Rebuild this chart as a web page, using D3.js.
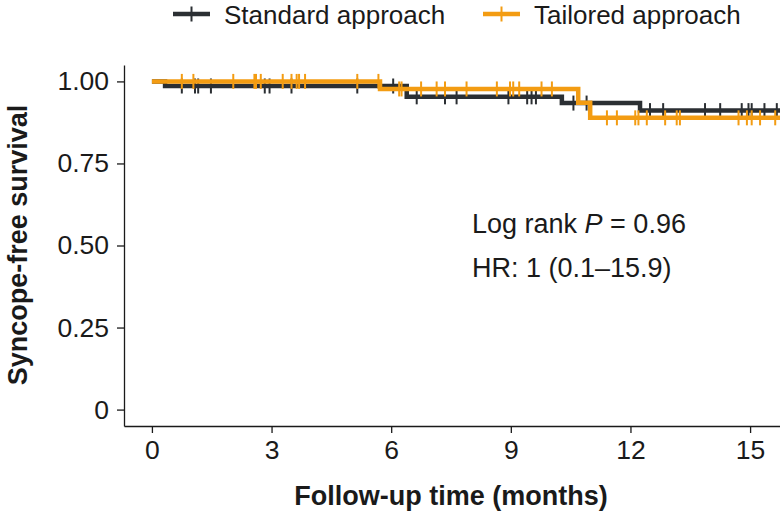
<!doctype html>
<html>
<head>
    <meta charset="utf-8">
    <style>
        body { margin: 0; background: #fff; }
        text { font-family: "Liberation Sans", Arial, sans-serif; fill: #1a1a1a; }
        .axis path, .axis line { stroke: #1a1a1a; stroke-width: 1.3px; }
    </style>
    <script src="https://d3js.org/d3.v7.min.js"></script>
</head>
<body>
<svg width="780" height="511"></svg>
<script>

    // Kaplan-Meier steps (months, survival)
    var standardTimes = [0, 0.33, 6.39, 10.28, 12.24, 15.75];
    var standardSurv  = [1, 0.986, 0.953, 0.934, 0.911, 0.911];
    var tailoredTimes = [0, 5.72, 10.69, 10.99, 15.75];
    var tailoredSurv  = [1, 0.977, 0.935, 0.889, 0.889];

    // censored observations
    var standardCensor = [0.75, 1.08, 1.16, 1.48, 2.83, 2.95, 3.50, 5.15, 6.05, 6.64, 7.35, 7.64,
        8.94, 9.41, 9.52, 9.63, 10.57, 10.90, 12.49, 12.82, 13.87, 14.25, 14.79, 14.96, 15.04,
        15.36, 15.67];
    var tailoredCensor = [0.75, 1.04, 2.04, 2.57, 2.61, 2.73, 3.28, 3.50, 3.63, 3.69, 3.84, 5.15,
        5.68, 6.20, 6.26, 6.75, 7.14, 7.35, 7.89, 8.65, 8.98, 9.06, 9.21, 9.77, 10.03, 11.41,
        11.66, 12.12, 12.20, 12.41, 12.87, 13.16, 13.24, 14.71, 14.92, 15.04, 15.25, 15.63];

    var xTicks = [0, 3, 6, 9, 12, 15];
    var yTicks = [0, 0.25, 0.5, 0.75, 1];
    var seriesNames = ["Standard approach", "Tailored approach"];
    var colors = ["#2b2f33", "#f39c12"];

    var svg = d3.select("svg");

    var x = d3.scaleLinear().domain([-0.7, 15.75]).range([124, 780]);
    var y = d3.scaleLinear().domain([-0.05, 1.05]).range([426, 65]);

    // axes
    svg.append("g")
        .attr("class", "axis")
        .attr("transform", "translate(0,426)")
        .call(d3.axisBottom(x).tickValues(xTicks).tickSize(7).tickSizeOuter(0).tickPadding(7))
        .selectAll("text")
        .style("font-size", "26.5px");

    svg.append("g")
        .attr("class", "axis")
        .attr("transform", "translate(124,0)")
        .call(d3.axisLeft(y).tickValues(yTicks).tickSize(7).tickSizeOuter(0).tickPadding(8)
            .tickFormat(function(d) { return d === 0 ? "0" : d3.format(".2f")(d); }))
        .selectAll("text")
        .style("font-size", "26.5px");

    svg.selectAll(".axis text").attr("fill", "#1a1a1a");

    // axis titles
    svg.append("text")
        .attr("x", 451)
        .attr("y", 505)
        .attr("text-anchor", "middle")
        .style("font-size", "27px")
        .style("font-weight", "bold")
        .text("Follow-up time (months)");

    svg.append("text")
        .attr("transform", "translate(27,245) rotate(-90)")
        .attr("text-anchor", "middle")
        .style("font-size", "27px")
        .style("font-weight", "bold")
        .text("Syncope-free survival");

    function survAt(times, surv, t) {
        var s = surv[0];
        for (var i = 0; i < times.length; i++) {
            if (times[i] <= t) s = surv[i];
        }
        return s;
    }

    var line = d3.line()
        .x(function(d) { return x(d[0]); })
        .y(function(d) { return y(d[1]); })
        .curve(d3.curveStepAfter);

    var series = [
        { times: standardTimes, surv: standardSurv, censor: standardCensor, color: colors[0] },
        { times: tailoredTimes, surv: tailoredSurv, censor: tailoredCensor, color: colors[1] }
    ];

    series.forEach(function(s) {
        var pts = s.times.map(function(t, i) { return [t, s.surv[i]]; });
        svg.append("path")
            .datum(pts)
            .attr("fill", "none")
            .attr("stroke", s.color)
            .attr("stroke-width", 4.5)
            .attr("d", line);

        svg.append("g").selectAll("line")
            .data(s.censor)
            .enter().append("line")
            .attr("x1", function(d) { return x(d); })
            .attr("x2", function(d) { return x(d); })
            .attr("y1", function(d) { return y(survAt(s.times, s.surv, d)) - 7.5; })
            .attr("y2", function(d) { return y(survAt(s.times, s.surv, d)) + 7.5; })
            .attr("stroke", s.color)
            .attr("stroke-width", 2);
    });

    // annotation
    var note = svg.append("text")
        .attr("x", 472)
        .attr("y", 233)
        .style("font-size", "27px");
    note.append("tspan").text("Log rank ");
    note.append("tspan").style("font-style", "italic").text("P");
    note.append("tspan").text(" = 0.96");

    svg.append("text")
        .attr("x", 472)
        .attr("y", 277)
        .style("font-size", "27px")
        .text("HR: 1 (0.1\u201315.9)");

    // legend
    var legendX = [173, 483];
    seriesNames.forEach(function(name, i) {
        var lg = svg.append("g").attr("transform", "translate(" + legendX[i] + ",14)");
        lg.append("line")
            .attr("x1", 0).attr("x2", 37).attr("y1", 0).attr("y2", 0)
            .attr("stroke", colors[i]).attr("stroke-width", 4.5);
        lg.append("line")
            .attr("x1", 18.5).attr("x2", 18.5).attr("y1", -7.5).attr("y2", 7.5)
            .attr("stroke", colors[i]).attr("stroke-width", 2);
        lg.append("text")
            .attr("x", 51)
            .attr("y", 9.5)
            .style("font-size", "26px")
            .text(name);
    });

</script>
</body>
</html>
